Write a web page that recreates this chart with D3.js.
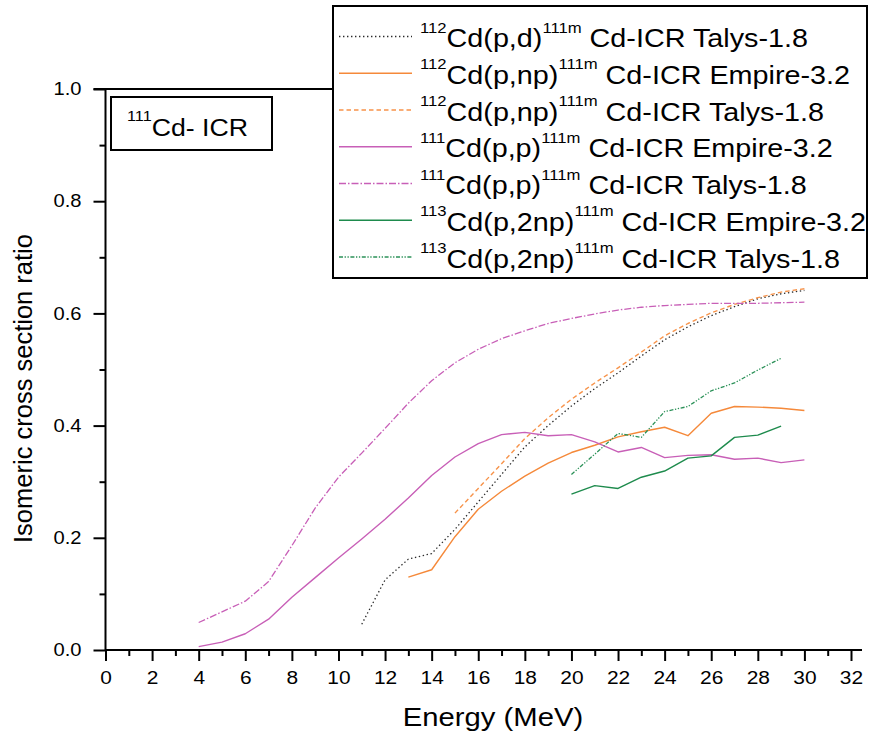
<!DOCTYPE html>
<html>
<head>
<meta charset="utf-8">
<script src="https://cdn.jsdelivr.net/npm/d3@7"></script>
<style>
  body { margin: 0; background: #fff; }
  svg { display: block; }
  text { font-family: "Liberation Sans", Arial, Helvetica, sans-serif; fill: #000; }
</style>
</head>
<body>
<svg id="chart" width="872" height="736"></svg>
<script>
// ---- Isomeric cross section ratios for 111mCd (ICR) ----
const energyPD   = [11,12,13,14,15,16,17,18,19,20,21,22,23,24,25,26,27,28,29,30];
const pdTalys    = [0.046,0.125,0.162,0.172,0.215,0.264,0.313,0.362,0.400,0.435,0.466,0.494,0.524,0.553,0.576,0.596,0.612,0.626,0.635,0.641];

const energyNPEmp = [13,14,15,16,17,18,19,20,21,22,23,24,25,26,27,28,29,30];
const npEmpire    = [0.130,0.143,0.202,0.251,0.283,0.310,0.333,0.352,0.365,0.380,0.389,0.397,0.382,0.422,0.434,0.433,0.431,0.427];

const energyNPTal = [15,16,17,18,19,20,21,22,23,24,25,26,27,28,29,30];
const npTalys     = [0.244,0.288,0.332,0.377,0.414,0.447,0.476,0.503,0.531,0.560,0.582,0.601,0.616,0.628,0.638,0.644];

const energyPP  = [4,5,6,7,8,9,10,11,12,13,14,15,16,17,18,19,20,21,22,23,24,25,26,27,28,29,30];
const ppEmpire  = [0.006,0.014,0.029,0.055,0.094,0.129,0.164,0.198,0.233,0.271,0.311,0.344,0.368,0.384,0.388,0.382,0.384,0.371,0.353,0.361,0.343,0.347,0.348,0.340,0.342,0.334,0.339];
const ppTalys   = [0.049,0.068,0.087,0.122,0.186,0.253,0.308,0.351,0.395,0.440,0.480,0.512,0.536,0.555,0.569,0.582,0.591,0.599,0.606,0.611,0.614,0.616,0.618,0.618,0.618,0.619,0.620];

const energy2NP   = [20,21,22,23,24,25,26,27,28,29];
const twoNpEmpire = [0.278,0.293,0.288,0.308,0.319,0.342,0.346,0.379,0.383,0.399];
const twoNpTalys  = [0.313,0.349,0.386,0.379,0.425,0.434,0.462,0.476,0.499,0.520];

// legend text pieces
const legendTargets   = ["112","112","112","111","111","113","113"];
const legendReactions = ["Cd(p,d)","Cd(p,np)","Cd(p,np)","Cd(p,p)","Cd(p,p)","Cd(p,2np)","Cd(p,2np)"];
const legendProduct   = "111m";
const legendModels    = ["Cd-ICR Talys-1.8","Cd-ICR Empire-3.2","Cd-ICR Talys-1.8","Cd-ICR Empire-3.2","Cd-ICR Talys-1.8","Cd-ICR Empire-3.2","Cd-ICR Talys-1.8"];

// axis ticks
const xMajorTicks = [0,2,4,6,8,10,12,14,16,18,20,22,24,26,28,30,32];
const xMinorTicks = [1,3,5,7,9,11,13,15,17,19,21,23,25,27,29,31];
const yMajorTicks = [0.0,0.2,0.4,0.6,0.8,1.0];
const yMinorTicks = [0.1,0.3,0.5,0.7,0.9];

const xTitle = "Energy (MeV)";
const yTitle = "Isomeric cross section ratio";
const boxMass = "111";
const boxLabel = "Cd- ICR";

// ---- series assembly and line styles ----
const series = [
  { e: energyPD,    v: pdTalys,     color: "#2a2a2a", dash: "1.4,2.6", width: 1.3 },
  { e: energyNPEmp, v: npEmpire,    color: "#f5893a", dash: null,      width: 1.4 },
  { e: energyNPTal, v: npTalys,     color: "#f7934a", dash: "4.5,3",   width: 1.4 },
  { e: energyPP,    v: ppEmpire,    color: "#c85fb7", dash: null,      width: 1.4 },
  { e: energyPP,    v: ppTalys,     color: "#c85fb7", dash: "7,2,1.5,2", width: 1.3 },
  { e: energy2NP,   v: twoNpEmpire, color: "#1e8b4d", dash: null,      width: 1.4 },
  { e: energy2NP,   v: twoNpTalys,  color: "#2b9158", dash: "4,1.6,1.3,1.6,1.3,1.6", width: 1.3 }
];

const svg = d3.select("#chart");
const x = d3.scaleLinear().domain([0, 32]).range([105.5, 851]);
const y = d3.scaleLinear().domain([0, 1]).range([650, 89]);

// horizontally stretched text helper
function stretchedText(parent, px, py, sx) {
  return parent.append("g")
    .attr("transform", `translate(${px},${py}) scale(${sx},1)`)
    .append("text");
}

// ---- axes ----
const axisG = svg.append("g");

// x axis minor + major ticks
axisG.append("g").attr("transform", "translate(0,650)")
  .call(d3.axisBottom(x).tickValues(xMinorTicks).tickSize(6).tickSizeOuter(0).tickFormat(""))
  .call(g => g.select(".domain").remove())
  .call(g => g.selectAll("line").attr("stroke", "#000").attr("stroke-width", 2));

axisG.append("g").attr("transform", "translate(0,650)")
  .call(d3.axisBottom(x).tickValues(xMajorTicks).tickSize(11).tickPadding(10).tickSizeOuter(0).tickFormat(d3.format("d")))
  .call(g => g.select(".domain").remove())
  .call(g => g.selectAll("line").attr("stroke", "#000").attr("stroke-width", 2))
  .call(g => g.selectAll("text")
    .attr("font-size", 19).attr("font-family", "Liberation Sans, Arial, sans-serif")
    .attr("fill", "#000").attr("transform", "scale(1.1,1)"));

// y axis minor + major ticks
axisG.append("g").attr("transform", "translate(105.5,0)")
  .call(d3.axisLeft(y).tickValues(yMinorTicks).tickSize(6).tickSizeOuter(0).tickFormat(""))
  .call(g => g.select(".domain").remove())
  .call(g => g.selectAll("line").attr("stroke", "#000").attr("stroke-width", 2));

axisG.append("g").attr("transform", "translate(105.5,0)")
  .call(d3.axisLeft(y).tickValues(yMajorTicks).tickSize(12).tickPadding(12).tickSizeOuter(0).tickFormat(d3.format(".1f")))
  .call(g => g.select(".domain").remove())
  .call(g => g.selectAll("line").attr("stroke", "#000").attr("stroke-width", 2))
  .call(g => g.selectAll("text")
    .attr("font-size", 18).attr("font-family", "Liberation Sans, Arial, sans-serif")
    .attr("fill", "#000")
    .attr("x", -24 / 1.12)
    .attr("transform", "scale(1.12,1)"));

// axis lines (left, bottom, top)
axisG.append("line").attr("x1", x(0)).attr("x2", x(0)).attr("y1", y(1)).attr("y2", y(0))
  .attr("stroke", "#000").attr("stroke-width", 2);
axisG.append("line").attr("x1", x(0)).attr("x2", 862).attr("y1", y(0)).attr("y2", y(0))
  .attr("stroke", "#000").attr("stroke-width", 2);
axisG.append("line").attr("x1", x(0) - 12).attr("x2", 862).attr("y1", y(1)).attr("y2", y(1))
  .attr("stroke", "#000").attr("stroke-width", 2);

// ---- curves ----
const line = d3.line().x(d => x(d[0])).y(d => y(d[1]));
const curveG = svg.append("g").attr("fill", "none");
series.forEach(s => {
  curveG.append("path")
    .datum(s.e.map((e, i) => [e, s.v[i]]))
    .attr("d", line)
    .attr("stroke", s.color)
    .attr("stroke-width", s.width)
    .attr("stroke-dasharray", s.dash)
    .attr("stroke-linejoin", "round");
});

// ---- axis titles ----
stretchedText(svg, 493, 726, 1.17)
  .attr("text-anchor", "middle").attr("font-size", 25).text(xTitle);

svg.append("text")
  .attr("transform", "translate(31.5,388.5) rotate(-90)")
  .attr("text-anchor", "middle").attr("font-size", 25.5).text(yTitle);

// ---- nucleus label box ----
svg.append("rect").attr("x", 111).attr("y", 97).attr("width", 161).attr("height", 53)
  .attr("fill", "#fff").attr("stroke", "#000").attr("stroke-width", 2);
const boxText = stretchedText(svg, 127, 136, 1.16);
boxText.append("tspan").attr("font-size", 14).attr("dy", -15).text(boxMass);
boxText.append("tspan").attr("font-size", 23).attr("dy", 15).text(boxLabel);

// ---- legend ----
const legendG = svg.append("g");
legendG.append("rect").attr("x", 333).attr("y", 6).attr("width", 534).attr("height", 272)
  .attr("fill", "#fff").attr("stroke", "#000").attr("stroke-width", 2);

series.forEach((s, i) => {
  const ly = 36.5 + i * 36.75;
  legendG.append("line")
    .attr("x1", 339).attr("x2", 412).attr("y1", ly).attr("y2", ly)
    .attr("stroke", s.color).attr("stroke-width", s.width)
    .attr("stroke-dasharray", s.dash);
  const t = stretchedText(legendG, 420, ly + 10.5, 1.15);
  t.append("tspan").attr("font-size", 14.5).attr("dy", -14.5).text(legendTargets[i]);
  t.append("tspan").attr("font-size", 25).attr("dy", 14.5).text(legendReactions[i]);
  t.append("tspan").attr("font-size", 14.5).attr("dy", -14.5).text(legendProduct);
  t.append("tspan").attr("font-size", 25).attr("dy", 14.5).text("\u00a0" + legendModels[i]);
});
</script>
</body>
</html>
